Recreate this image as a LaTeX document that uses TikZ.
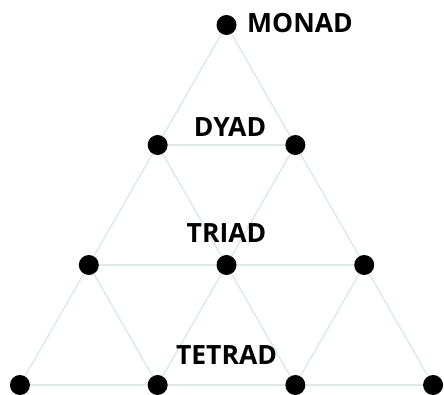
\documentclass[tikz,border=0pt]{standalone}
\usepackage{fontspec}
\setmainfont{Open Sans}
\usepackage{tikz}

\definecolor{gridline}{RGB}{222,232,230}
\tikzset{
  dot/.style={circle, fill=black, inner sep=0pt, minimum size=20pt},
  level/.style={font=\fontsize{26.5}{30}\selectfont\bfseries, inner sep=0pt},
  link/.style={draw=gridline, line width=1.4pt}
}

\begin{document}
\begin{tikzpicture}[x=1pt,y=1pt]
  \useasboundingbox (0,0) rectangle (444,395);

  % the ten points, row by row
  \foreach \r in {0,...,3} {
    \foreach \k in {0,...,\r} {
      \pgfmathsetmacro{\px}{226.5+(\k-\r/2)*137.7}
      \pgfmathsetmacro{\py}{370-120*\r}
      \node[dot] (d\r\k) at (\px,\py) {};
    }
  }

  % slanted lines down to the next row
  \foreach \r in {0,1,2} {
    \pgfmathtruncatemacro{\s}{\r+1}
    \foreach \k in {0,...,\r} {
      \pgfmathtruncatemacro{\kk}{\k+1}
      \draw[link] (d\r\k) -- (d\s\k);
      \draw[link] (d\r\k) -- (d\s\kk);
    }
  }
  % rows
  \foreach \r in {1,2,3} {
    \pgfmathtruncatemacro{\m}{\r-1}
    \foreach \k in {0,...,\m} {
      \pgfmathtruncatemacro{\kk}{\k+1}
      \draw[link] (d\r\k) -- (d\r\kk);
    }
  }

  % names of the levels
  \node[level, anchor=base west] (monad) at (247,362) {MONAD};
  \node[level, anchor=base] (dyad) at (230,258) {DYAD};
  \node[level, anchor=base] (triad) at (226.5,152) {TRIAD};
  \node[level, anchor=base] (tetrad) at (226.5,30) {TETRAD};
\end{tikzpicture}
\end{document}
